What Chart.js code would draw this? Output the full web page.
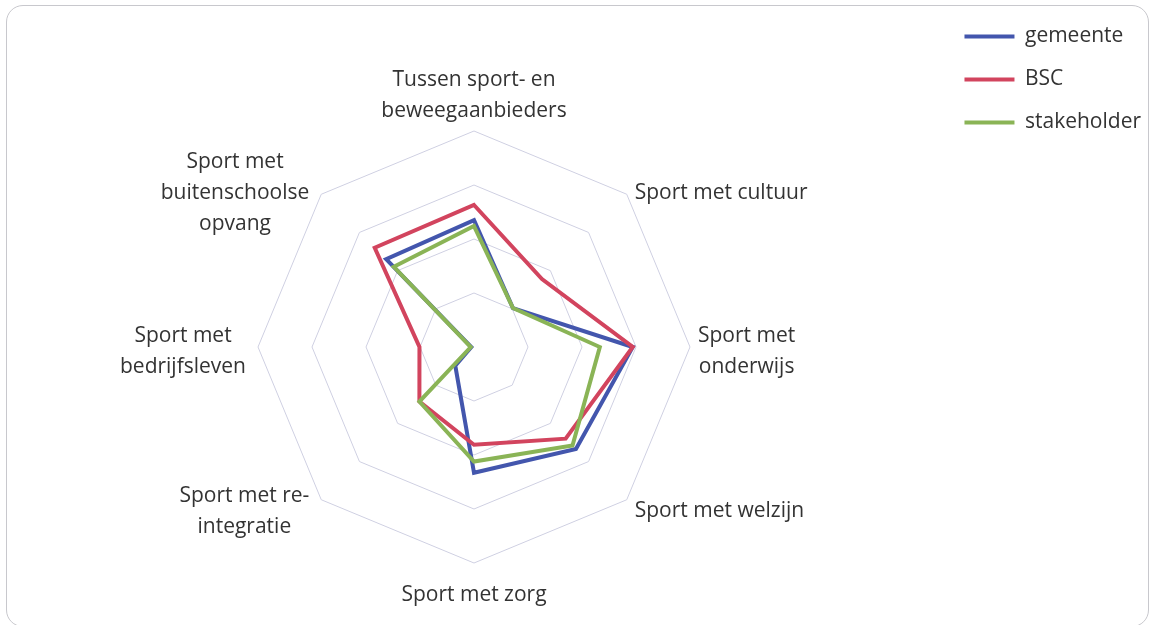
<!DOCTYPE html>
<html lang="nl">
<head>
    <meta charset="UTF-8">
    <title>Samenwerking sport</title>
    <script src="https://cdn.jsdelivr.net/npm/chart.js"></script>
    <style>
        html, body { margin: 0; padding: 0; background: #fff; overflow: hidden; }
        .frame {
            position: absolute; left: 6px; top: 5px; width: 1143px; height: 622px;
            border: 1.5px solid #c8c8cd; border-radius: 17px; box-sizing: border-box;
        }
        .chart-box { position: absolute; left: 0; top: 0; width: 1151px; height: 625px; }
    </style>
</head>
<body>
    <div class="frame"></div>
    <div class="chart-box"><canvas id="radarChart"></canvas></div>

    <script>
        // axes, clockwise from the top
        const categories = [
            ['Tussen sport- en', 'beweegaanbieders'],
            'Sport met cultuur',
            ['Sport met', 'onderwijs'],
            'Sport met welzijn',
            'Sport met zorg',
            ['Sport met re-', 'integratie'],
            ['Sport met', 'bedrijfsleven'],
            ['Sport met', 'buitenschoolse', 'opvang']
        ];
        const gemeente    = [2.35, 1.02, 2.94, 2.67, 2.33, 0.49, 0.05, 2.30];
        const bsc         = [2.63, 1.78, 2.94, 2.40, 1.81, 1.43, 1.01, 2.60];
        const stakeholder = [2.24, 1.02, 2.33, 2.58, 2.12, 1.43, 0.06, 2.10];
        const ringSteps = [0, 1, 2, 3, 4];

        const FONT = '"Open Sans", Lato, sans-serif';
        const FONT_SIZE = 21;
        const LINE_H = 31;
        const TEXT = '#333333';

        function series(label, data, color, order) {
            return {
                label: label,
                data: data,
                borderColor: color,
                backgroundColor: color,
                borderWidth: 4,
                fill: false,
                pointRadius: 0,
                pointHoverRadius: 0,
                tension: 0,
                order: order
            };
        }

        // axis labels with centred lines, placed next to the outer ring like the original
        const axisLabels = {
            id: 'axisLabels',
            afterDraw(chart) {
                const scale = chart.scales.r;
                const c = chart.ctx;
                c.save();
                c.font = FONT_SIZE + 'px ' + FONT;
                c.fillStyle = TEXT;
                c.textAlign = 'center';
                c.textBaseline = 'middle';
                chart.data.labels.forEach((lab, i) => {
                    const lines = Array.isArray(lab) ? lab : [lab];
                    const w = Math.max(...lines.map(t => c.measureText(t).width));
                    const h = lines.length * LINE_H;
                    const p = scale.getPointPosition(i, scale.drawingArea);
                    const deg = Math.round(scale.getIndexAngle(i) * 180 / Math.PI) % 360;
                    let cx, cy;
                    if (deg === 0) {
                        cx = p.x;
                        cy = p.y - 20 - (h - LINE_H) / 2;
                    } else if (deg === 180) {
                        cx = p.x;
                        cy = p.y + 32 + (h - LINE_H) / 2;
                    } else {
                        const a = scale.getIndexAngle(i);
                        cy = p.y + 5 - 9 * Math.cos(a);
                        cx = deg < 180 ? p.x + 8 + w / 2 : p.x - 12 - w / 2;
                    }
                    lines.forEach((t, k) => {
                        c.fillText(t, cx, cy - h / 2 + LINE_H * (k + 0.5));
                    });
                });
                c.restore();
            }
        };

        const ctx = document.getElementById('radarChart').getContext('2d');
        new Chart(ctx, {
            type: 'radar',
            data: {
                labels: categories,
                datasets: [
                    series('gemeente', gemeente, '#4356ad', 2),
                    series('BSC', bsc, '#d2445e', 1),
                    series('stakeholder', stakeholder, '#8ab456', 0)
                ]
            },
            options: {
                responsive: true,
                maintainAspectRatio: false,
                animation: false,
                layout: { padding: { top: 4, left: 6, right: 0, bottom: 62 } },
                elements: { line: { borderJoinStyle: 'miter' } },
                scales: {
                    r: {
                        min: ringSteps[0],
                        max: ringSteps[ringSteps.length - 1],
                        ticks: { display: false, stepSize: 1 },
                        grid: { color: '#cfd0e2', lineWidth: 1 },
                        angleLines: { display: false },
                        pointLabels: { display: false }
                    }
                },
                plugins: {
                    // empty title only pushes the plot down, legend stays at the top
                    title: {
                        display: true,
                        text: '',
                        fullSize: false,
                        padding: { top: 126, bottom: 0 },
                        font: { size: 1, lineHeight: 1 }
                    },
                    legend: {
                        position: 'right',
                        align: 'start',
                        labels: {
                            usePointStyle: true,
                            pointStyle: 'line',
                            pointStyleWidth: 50,
                            color: TEXT,
                            padding: 22,
                            font: { family: FONT, size: FONT_SIZE },
                            sort: (a, b) => a.datasetIndex - b.datasetIndex
                        }
                    },
                    tooltip: { enabled: false }
                }
            },
            plugins: [axisLabels]
        });
    </script>
</body>
</html>
